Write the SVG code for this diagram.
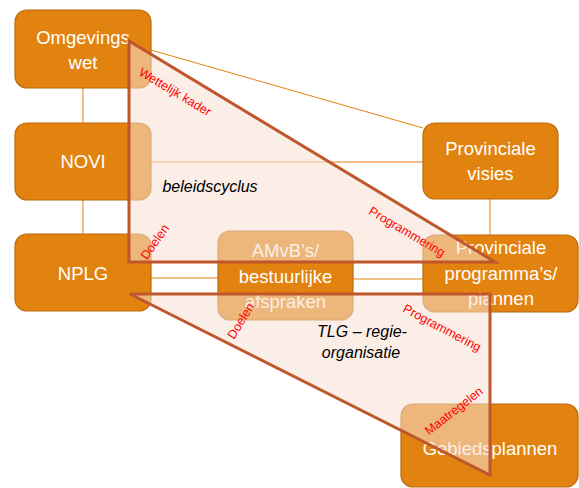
<svg xmlns="http://www.w3.org/2000/svg" width="579" height="488" viewBox="0 0 579 488">
<style>
.box{fill:#E3830F;stroke:#B9690D;stroke-width:1.2}
.bt{font-family:"Liberation Sans",Arial,sans-serif;font-size:18.5px;fill:#FFFFFF;text-anchor:middle}
.con{stroke:#F0AA60;stroke-width:1.5;fill:none}
.con2{stroke:#E3830F;stroke-width:1;fill:none}
.tri{fill:#F5E0D3;fill-opacity:0.55;stroke:#C0562B;stroke-width:3;stroke-linejoin:miter}
.lbl{font-family:"Liberation Sans",Arial,sans-serif;font-size:12.5px;fill:#FF0000;text-anchor:middle;dominant-baseline:central}
.it{font-family:"Liberation Sans",Arial,sans-serif;font-size:16px;font-style:italic;fill:#000000;text-anchor:middle}
</style>
<rect width="579" height="488" fill="#FFFFFF"/>
<g id="connectors">
<line class="con2" x1="151" y1="50" x2="423" y2="128"/>
<line class="con" x1="83" y1="88" x2="83" y2="123"/>
<line class="con" x1="83" y1="200" x2="83" y2="234"/>
<line class="con" x1="151" y1="162" x2="423" y2="162"/>
<line class="con" x1="490" y1="199" x2="490" y2="235"/>
<line class="con2" x1="151" y1="278" x2="218" y2="278"/>
<line class="con2" x1="353" y1="279" x2="423" y2="279"/>
</g>
<g id="omgevingswet">
<rect class="box" x="15" y="10" width="136" height="78" rx="12"/>
<text class="bt" x="83" y="44">Omgevings</text>
<text class="bt" x="83" y="69">wet</text>
</g>
<g id="novi">
<rect class="box" x="15" y="123" width="136" height="77" rx="12"/>
<text class="bt" x="83" y="168">NOVI</text>
</g>
<g id="nplg">
<rect class="box" x="15" y="234" width="136" height="77" rx="12"/>
<text class="bt" x="83" y="280">NPLG</text>
</g>
<g id="provinciale-visies">
<rect class="box" x="423" y="123" width="135" height="76" rx="12"/>
<text class="bt" x="490.5" y="155">Provinciale</text>
<text class="bt" x="490.5" y="180">visies</text>
</g>
<g id="provinciale-programmas">
<rect class="box" x="423" y="235" width="155" height="77" rx="12"/>
<text class="bt" x="501" y="254">Provinciale</text>
<text class="bt" x="501" y="280">programma’s/</text>
<text class="bt" x="501" y="305">plannen</text>
</g>
<g id="amvb">
<rect class="box" x="218" y="231" width="135" height="89" rx="12"/>
<text class="bt" x="285.5" y="257">AMvB’s/</text>
<text class="bt" x="285.5" y="283">bestuurlijke</text>
<text class="bt" x="285.5" y="308">afspraken</text>
</g>
<g id="gebiedsplannen">
<rect class="box" x="401" y="404" width="177" height="83" rx="12"/>
<text class="bt" x="490" y="455">Gebiedsplannen</text>
</g>
<g id="beleidscyclus-triangle">
<polygon class="tri" points="129,41 129,262 495,262"/>
</g>
<g id="regie-triangle">
<polygon class="tri" points="130,294 490,294 490,475"/>
</g>
<g id="labels">
<text class="lbl" transform="translate(175,92) rotate(31)">Wettelijk kader</text>
<text class="lbl" transform="translate(155,242) rotate(-55)">Doelen</text>
<text class="lbl" transform="translate(407,232) rotate(30.5)">Programmering</text>
<text class="lbl" transform="translate(241,321) rotate(-58)">Doelen</text>
<text class="lbl" transform="translate(442,328) rotate(28)">Programmering</text>
<text class="lbl" transform="translate(454,411) rotate(-38)">Maatregelen</text>
<text class="it" x="210" y="192">beleidscyclus</text>
<text class="it" x="362" y="337">TLG – regie-</text>
<text class="it" x="361" y="358">organisatie</text>
</g>
</svg>
